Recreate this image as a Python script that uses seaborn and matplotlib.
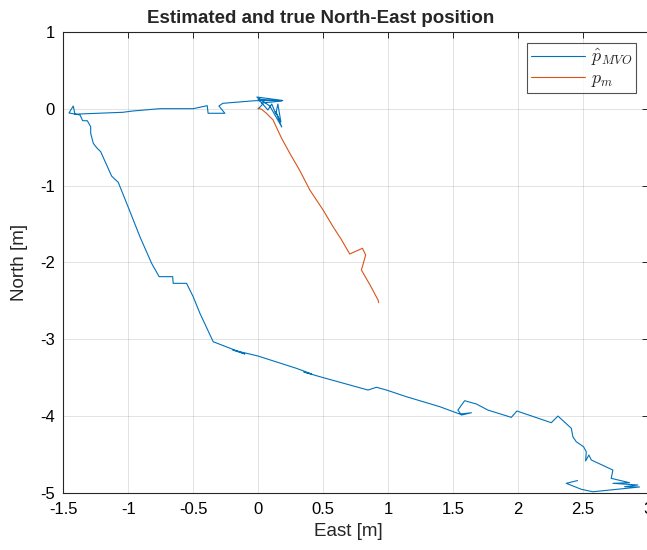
import numpy as np
import pandas as pd
import matplotlib
matplotlib.use("Agg")
import matplotlib.pyplot as plt
import seaborn as sns

# Estimated position (p_hat_MVO): East / North in metres
est_east = [0.000, 0.036, -0.002, 0.182, 0.028, 0.075, 0.105, 0.136, 0.152, 0.175,
            0.136, 0.182, 0.090, -0.010, 0.190, -0.025, -0.272, -0.302, -0.256, -0.385,
            -0.392, -0.500, -0.756, -0.964, -1.041, -1.371, -1.410, -1.423, -1.456, -1.371,
            -1.351, -1.315, -1.289, -1.289, -1.269, -1.243, -1.212, -1.128, -1.077, -1.012,
            -0.910, -0.820, -0.762, -0.658, -0.654, -0.551, -0.500, -0.448, -0.346, -0.102,
            -0.195, -0.002, 0.295, 0.413, 0.352, 0.475, 0.846, 0.911, 0.988, 1.142,
            1.398, 1.552, 1.642, 1.565, 1.538, 1.590, 1.680, 1.769, 1.949, 1.992,
            2.257, 2.308, 2.411, 2.423, 2.449, 2.505, 2.526, 2.521, 2.546, 2.565,
            2.731, 2.718, 2.859, 2.731, 2.923, 2.821, 2.936, 2.577, 2.488, 2.372,
            2.459]
est_north = [0.000, 0.065, 0.130, 0.104, 0.078, -0.013, 0.065, -0.065, 0.065, -0.169,
             -0.039, -0.235, 0.039, 0.156, 0.111, 0.108, 0.074, 0.039, -0.056, -0.056,
             0.043, 0.004, 0.004, -0.026, -0.043, -0.065, -0.069, 0.039, -0.052, -0.078,
             -0.153, -0.153, -0.231, -0.317, -0.447, -0.505, -0.557, -0.874, -0.956, -1.229,
             -1.665, -2.012, -2.186, -2.186, -2.273, -2.273, -2.447, -2.664, -3.034, -3.194,
             -3.142, -3.220, -3.381, -3.455, -3.429, -3.490, -3.664, -3.628, -3.664, -3.751,
             -3.881, -3.977, -3.960, -3.990, -3.925, -3.803, -3.846, -3.925, -4.020, -3.937,
             -4.090, -4.003, -4.163, -4.273, -4.338, -4.403, -4.468, -4.589, -4.511, -4.576,
             -4.707, -4.815, -4.872, -4.880, -4.902, -4.924, -4.928, -4.990, -4.958, -4.880,
             -4.844]

# Measured position (p_m)
meas_east = [0.000, 0.026, 0.060, 0.115, 0.180, 0.244, 0.320, 0.398, 0.500, 0.577,
             0.640, 0.705, 0.803, 0.828, 0.795, 0.860, 0.923, 0.928]
meas_north = [0.010, -0.004, -0.050, -0.143, -0.380, -0.578, -0.800, -1.056, -1.317, -1.535,
              -1.700, -1.890, -1.816, -1.904, -2.099, -2.290, -2.490, -2.525]

x_ticks = [-1.5, -1, -0.5, 0, 0.5, 1, 1.5, 2, 2.5, 3]
y_ticks = [-5, -4, -3, -2, -1, 0, 1]

sns.set_style("white")
plt.rcParams['font.family'] = ['Liberation Sans', 'DejaVu Sans']
plt.rcParams['mathtext.fontset'] = 'cm'
plt.rcParams['axes.unicode_minus'] = False

fig = plt.figure(figsize=(6.47, 5.5), dpi=100)
ax = fig.add_axes([0.0978, 0.1045, 0.9035, 0.8368])

df_est = pd.DataFrame({'East': est_east, 'North': est_north})
df_meas = pd.DataFrame({'East': meas_east, 'North': meas_north})

sns.lineplot(data=df_est, x='East', y='North', sort=False, estimator=None,
             color='#0072BD', lw=0.8, ax=ax, label=r'$\hat{p}_{MVO}$')
sns.lineplot(data=df_meas, x='East', y='North', sort=False, estimator=None,
             color='#D95319', lw=0.8, ax=ax, label=r'$p_m$')

ax.set_xlim(-1.5, 3)
ax.set_ylim(-5, 1)
ax.set_xticks(x_ticks)
ax.set_xticklabels([f"{t:g}" for t in x_ticks])
ax.set_yticks(y_ticks)
ax.set_yticklabels([f"{t:g}" for t in y_ticks])

ax.grid(True, color='#262626', alpha=0.13, lw=0.7)
ax.set_axisbelow(True)
for s in ax.spines.values():
    s.set_color('#262626')
    s.set_linewidth(0.8)
ax.tick_params(direction='in', length=4, width=0.7, colors='#262626',
               labelsize=12, top=True, right=True, labelcolor='#000000')
ax.tick_params(axis='x', pad=7)
ax.tick_params(axis='y', pad=6)

ax.set_xlabel('East [m]', fontsize=13.5, labelpad=3)
ax.xaxis.set_label_coords((348 - 63.3) / 584.4, -0.067)
ax.set_ylabel('North [m]', fontsize=13.5)
ax.yaxis.set_label_coords(-0.060, 0.5)
ax.set_title('Estimated and true North-East position', fontsize=13.5, fontweight='bold',
             x=(321 - 63.3) / 584.4, pad=7)

leg = ax.legend(loc='upper right', bbox_to_anchor=(0.979, 0.976), fontsize=13,
                handlelength=3.0, frameon=True, fancybox=False, borderpad=0.2,
                labelspacing=0.12, handletextpad=0.3, borderaxespad=0)
leg.get_frame().set_edgecolor('#262626')
leg.get_frame().set_linewidth(0.8)

fig.savefig('out.png', dpi=100)
